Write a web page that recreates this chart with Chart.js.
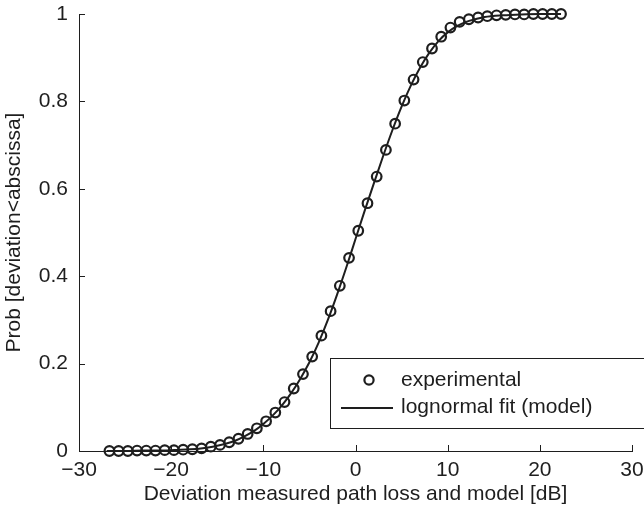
<!DOCTYPE html>
<html>
<head>
<meta charset="utf-8">
<script src="https://cdn.jsdelivr.net/npm/chart.js@4.4.1/dist/chart.umd.min.js"></script>
<style>
  html, body { margin: 0; padding: 0; background: #fff; }
  #wrap { width: 644px; height: 513px; }
</style>
</head>
<body>
<div id="wrap"><canvas id="cdf" width="644" height="513"></canvas></div>
<script>
// measured CDF of the deviation (1 dB bins)
const expDev = [-26.7, -25.7, -24.7, -23.7, -22.7, -21.7, -20.7, -19.7, -18.7, -17.7,
                -16.7, -15.7, -14.7, -13.7, -12.7, -11.7, -10.7, -9.7, -8.7, -7.7,
                -6.7, -5.7, -4.7, -3.7, -2.7, -1.7, -0.7, 0.3, 1.3, 2.3,
                3.3, 4.3, 5.3, 6.3, 7.3, 8.3, 9.3, 10.3, 11.3, 12.3,
                13.3, 14.3, 15.3, 16.3, 17.3, 18.3, 19.3, 20.3, 21.3, 22.3];
const expProb = [0, 0, 0, 0.001, 0.001, 0.001, 0.002, 0.002, 0.003, 0.004,
                 0.006, 0.010, 0.014, 0.020, 0.028, 0.039, 0.052, 0.068, 0.088, 0.112,
                 0.143, 0.176, 0.216, 0.264, 0.320, 0.378, 0.442, 0.504, 0.567, 0.628,
                 0.689, 0.749, 0.802, 0.850, 0.890, 0.921, 0.948, 0.969, 0.982, 0.988,
                 0.992, 0.995, 0.997, 0.998, 0.999, 0.999, 1, 1, 1, 1];

// lognormal model curve
const fitDev = [-27, -25, -23, -21, -19, -17, -16, -15, -14, -13, -12, -11, -10, -9, -8,
                -7, -6, -5, -4, -3, -2, -1, 0, 1, 2, 3, 4, 5, 6, 7,
                8, 9, 10, 11, 12, 13, 14, 16, 18, 20, 22.3];
const fitProb = [0, 0, 0.001, 0.001, 0.003, 0.005, 0.008, 0.012, 0.017, 0.024, 0.034, 0.046, 0.062, 0.081, 0.104,
                 0.132, 0.165, 0.203, 0.248, 0.300, 0.358, 0.420, 0.485, 0.550, 0.613, 0.675, 0.734, 0.788, 0.836, 0.877,
                 0.911, 0.938, 0.958, 0.972, 0.982, 0.988, 0.993, 0.997, 0.999, 1, 1];

const xTicks = [-30, -20, -10, 0, 10, 20, 30];
const yTicks = [0, 0.2, 0.4, 0.6, 0.8, 1];

const ink = '#1e1e1e';
const fam = '"Liberation Sans", Arial, Helvetica, sans-serif';
const fsize = 21;

const pts = (xs, ys) => xs.map((x, i) => ({ x: x, y: ys[i] }));
const minus = v => String(v).replace('-', '\u2212');

// inward tick marks + legend box, matlab style
const decor = {
  id: 'decor',
  afterDraw(chart) {
    const ctx = chart.ctx;
    const xs = chart.scales.x, ys = chart.scales.y;
    const a = chart.chartArea;
    ctx.save();
    ctx.strokeStyle = ink;
    ctx.lineWidth = 1;
    ctx.beginPath();
    xTicks.forEach(t => {
      const px = Math.round(xs.getPixelForValue(t)) + 0.5;
      ctx.moveTo(px, a.bottom);
      ctx.lineTo(px, a.bottom - 6);
    });
    yTicks.forEach(t => {
      const py = Math.round(ys.getPixelForValue(t)) + 0.5;
      ctx.moveTo(a.left, py);
      ctx.lineTo(a.left + 6, py);
    });
    ctx.stroke();

    // legend
    const bx = 330.5, by = 358.5;
    ctx.fillStyle = '#fff';
    ctx.fillRect(bx, by, 330, 70);
    ctx.strokeRect(bx, by, 330, 70);
    ctx.lineWidth = 2.2;
    ctx.beginPath();
    ctx.arc(369, 380, 4.6, 0, Math.PI * 2);
    ctx.stroke();
    ctx.lineWidth = 2;
    ctx.beginPath();
    ctx.moveTo(341, 408);
    ctx.lineTo(393, 408);
    ctx.stroke();
    ctx.fillStyle = ink;
    ctx.font = fsize + 'px ' + fam;
    ctx.textBaseline = 'middle';
    ctx.fillText('experimental', 401, 380);
    ctx.fillText('lognormal fit (model)', 401, 407);
    ctx.restore();
  }
};

new Chart(document.getElementById('cdf'), {
  type: 'scatter',
  data: {
    datasets: [
      {
        label: 'experimental',
        data: pts(expDev, expProb),
        showLine: false,
        clip: false,
        pointStyle: 'circle',
        pointRadius: 4.8,
        pointBorderWidth: 2.2,
        pointBorderColor: ink,
        pointBackgroundColor: 'rgba(0,0,0,0)',
        pointHoverRadius: 4.8
      },
      {
        label: 'lognormal fit (model)',
        data: pts(fitDev, fitProb),
        showLine: true,
        clip: false,
        borderColor: ink,
        borderWidth: 2,
        pointRadius: 0,
        cubicInterpolationMode: 'monotone'
      }
    ]
  },
  options: {
    responsive: false,
    animation: false,
    layout: { padding: { left: 0, right: 12, top: 14, bottom: 0 } },
    plugins: {
      legend: { display: false },
      tooltip: { enabled: false }
    },
    scales: {
      x: {
        type: 'linear',
        min: -30,
        max: 30,
        afterBuildTicks: s => { s.ticks = xTicks.map(v => ({ value: v })); },
        afterFit: s => { s.height = 62; s.paddingLeft = 0; s.paddingRight = 0; },
        grid: { display: false, drawTicks: false },
        border: { display: true, color: ink, width: 1 },
        ticks: {
          color: ink,
          padding: 7,
          font: { family: fam, size: fsize },
          callback: v => minus(v)
        },
        title: {
          display: true,
          text: 'Deviation measured path loss and model [dB]',
          color: ink,
          font: { family: fam, size: fsize },
          padding: { top: 0, bottom: 6 }
        }
      },
      y: {
        type: 'linear',
        min: 0,
        max: 1,
        afterBuildTicks: s => { s.ticks = yTicks.map(v => ({ value: v })); },
        afterFit: s => { s.width = 79; s.paddingTop = 0; s.paddingBottom = 0; },
        grid: { display: false, drawTicks: false },
        border: { display: true, color: ink, width: 1 },
        ticks: {
          color: ink,
          padding: 11,
          font: { family: fam, size: fsize },
          callback: v => String(v)
        },
        title: {
          display: true,
          text: 'Prob [deviation<abscissa]',
          color: ink,
          font: { family: fam, size: fsize },
          padding: { top: 1.5, bottom: 0 }
        }
      }
    }
  },
  plugins: [decor]
});
</script>
</body>
</html>
